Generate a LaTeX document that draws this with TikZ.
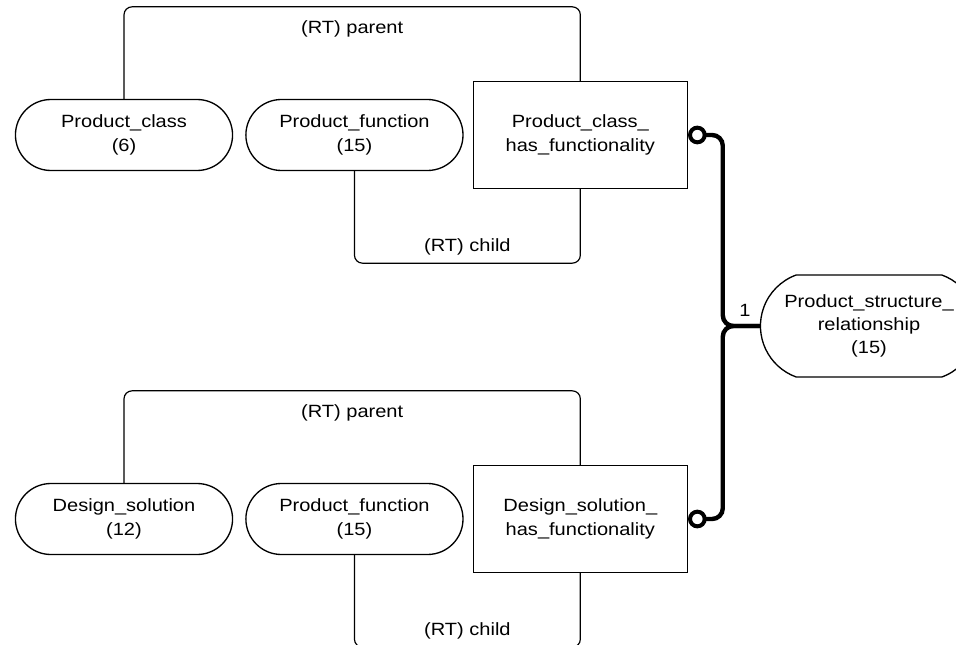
\documentclass[tikz,border=0pt]{standalone}
\usepackage{fontspec}
\setmainfont[FakeStretch=1.13]{Liberation Sans}
\usetikzlibrary{shapes.misc,positioning,calc}

\begin{document}
\begin{tikzpicture}[
    node distance=9pt,
    every node/.style={font=\fontsize{13.3}{17.5}\selectfont},
    entity/.style={rounded rectangle, draw, line width=1pt, minimum width=169.5pt, minimum height=53.25pt, align=center},
    assoc/.style={rectangle, draw, line width=1pt, minimum width=160.5pt, minimum height=80.25pt, align=center},
    ring/.style={circle, draw, line width=3pt, fill=white, minimum size=11pt, inner sep=0pt},
    rtline/.style={line width=0.9pt, rounded corners=6pt},
    link/.style={line width=3.3pt, rounded corners=8pt}
]
    \useasboundingbox (0,0) rectangle (717pt,-483.75pt);

    % upper group
    \node[entity] (pclass) at (93pt,-101.25pt) {Product\_class\\(6)};
    \node[entity, right=of pclass] (pfunc) {Product\_function\\(15)};
    \node[assoc, right=6.75pt of pfunc] (pchf) {Product\_class\_\\has\_functionality};

    % lower group
    \node[entity] (dsol) at (93pt,-389.25pt) {Design\_solution\\(12)};
    \node[entity, right=of dsol] (pfunc2) {Product\_function\\(15)};
    \node[assoc, right=6.75pt of pfunc2] (dshf) {Design\_solution\_\\has\_functionality};

    \node[entity, minimum height=76.5pt, rounded rectangle arc length=140] (psr) at (651.75pt,-244.5pt) {Product\_structure\_\\relationship\\(15)};

    % ring roles
    \draw[rtline] (pclass.north) -- ++(0,69pt) -| node[pos=0.25, yshift=-16.5pt] {(RT) parent} (pchf.north);
    \draw[rtline] (pfunc.south) -- ++(0,-69pt) -| node[pos=0.25, yshift=12pt] {(RT) child} (pchf.south);
    \draw[rtline] (dsol.north) -- ++(0,69pt) -| node[pos=0.25, yshift=-16.5pt] {(RT) parent} (dshf.north);
    \draw[rtline] (pfunc2.south) -- ++(0,-69pt) -| node[pos=0.25, yshift=12pt] {(RT) child} (dshf.south);

    % subtype links
    \coordinate (j) at ([xshift=-27.75pt]psr.west);
    \draw[link] ([xshift=7pt]pchf.east) -| (j) -- node[pos=0.6, above=2pt] {1} (psr.west);
    \draw[link] ([xshift=7pt]dshf.east) -| (j) -- (psr.west);
    \node[ring] (ring1) at ([xshift=7pt]pchf.east) {};
    \node[ring] (ring2) at ([xshift=7pt]dshf.east) {};
\end{tikzpicture}
\end{document}
